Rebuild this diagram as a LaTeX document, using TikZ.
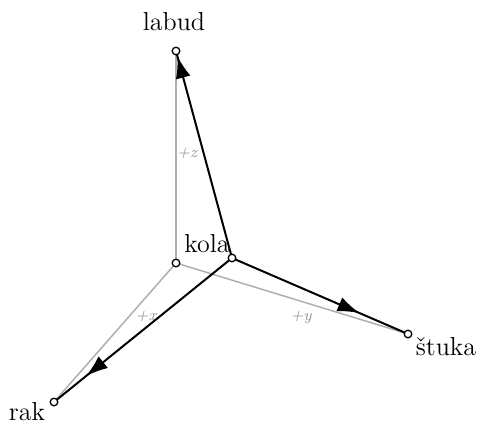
\documentclass[tikz,border=0pt]{standalone}
\usepackage{tikz}
\usetikzlibrary{arrows.meta,positioning,calc,decorations.markings}
\definecolor{axisgray}{RGB}{175,175,175}
\tikzset{
  pt/.style={circle,draw,fill=white,inner sep=0pt,minimum size=3.8pt,line width=0.65pt},
  axisline/.style={axisgray,line width=0.75pt},
  vec/.style={line width=1pt,postaction={decorate},
    decoration={markings,mark=at position #1 with {\arrow{Latex[length=11pt,width=7.5pt]}}}},
  vec/.default=0.8,
  lbl/.style={font=\fontsize{13}{15}\selectfont,inner sep=1pt},
  axlbl/.style={text=axisgray!85!black,font=\fontsize{8}{9}\selectfont\itshape,inner sep=1pt}
}

\begin{document}
\begin{tikzpicture}[x=0.5pt,y=-0.5pt]
  \useasboundingbox (0,0) rectangle (482,428);

  % points
  \coordinate (origin) at (176,263);
  \coordinate (kolaC) at (232,258);
  \coordinate (labudC) at (176,51);
  \coordinate (stukaC) at (408,334);
  \coordinate (rakC) at (54,402);

  % axes
  \draw[axisline] (origin) -- (labudC);
  \draw[axisline] (origin) -- (stukaC);
  \draw[axisline] (origin) -- (rakC);
  \node[axlbl] (zlbl) at (187,153) {+z};
  \node[axlbl] (ylbl) at (301,317) {+y};
  \node[axlbl] (xlbl) at (146,316) {+x};

  % vectors
  \draw[vec=0.975] (kolaC) -- (labudC);
  \draw[vec=0.725] (kolaC) -- (stukaC);
  \draw[vec=0.82] (kolaC) -- (rakC);

  \node[pt] (o) at (origin) {};
  \node[pt] (kola) at (kolaC) {};
  \node[pt] (labud) at (labudC) {};
  \node[pt] (stuka) at (stukaC) {};
  \node[pt] (rak) at (rakC) {};

  % labels
  \node[lbl] (labudlbl) at (174,22) {labud};
  \node[lbl] (kolalbl) at (207,244) {kola};
  \node[lbl] (stukalbl) at (446,347) {štuka};
  \node[lbl] (raklbl) at (27,412) {rak};
\end{tikzpicture}
\end{document}
